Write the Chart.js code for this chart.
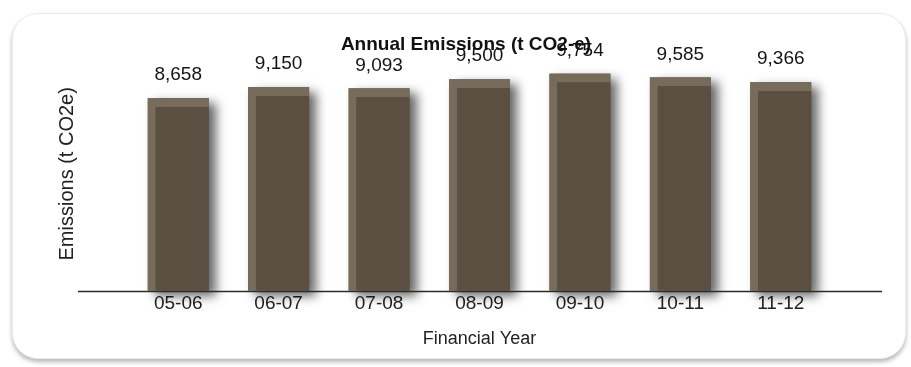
<!DOCTYPE html>
<html>
<head>
<meta charset="utf-8">
<title>Annual Emissions</title>
<script src="https://cdn.jsdelivr.net/npm/chart.js@4.4.1/dist/chart.umd.min.js"></script>
<style>
  html, body { margin: 0; padding: 0; background: #fff; }
  .stage { position: relative; width: 911px; height: 367px; overflow: hidden; }
  .card {
    position: absolute; left: 12px; top: 13px; width: 892px; height: 344px;
    border: 1px solid #ececec; border-radius: 26px;
    box-shadow: 0 3px 4px rgba(0, 0, 0, 0.28);
    background: #fff;
  }
  .chart-wrap { position: absolute; left: 0; top: 0; width: 911px; height: 367px; }
</style>
</head>
<body>
<div class="stage">
  <div class="card"></div>
  <div class="chart-wrap"><canvas id="emissions-chart" width="911" height="367"></canvas></div>
</div>
<script>
const years = ['05-06', '06-07', '07-08', '08-09', '09-10', '10-11', '11-12'];
const emissions = [8658, 9150, 9093, 9500, 9754, 9585, 9366];
const chartTitle = 'Annual Emissions (t CO2-e)';
const yTitle = 'Emissions (t CO2e)';
const xTitle = 'Financial Year';

const FONT = '"Liberation Sans", Arial, sans-serif';

// soft drop shadow behind each bar (the bar element clips itself, so cast it first)
const barShadow = {
  id: 'barShadow',
  beforeDatasetsDraw(chart) {
    const ctx = chart.ctx;
    ctx.save();
    ctx.shadowColor = 'rgba(0, 0, 0, 0.6)';
    ctx.shadowBlur = 10;
    ctx.shadowOffsetX = 7;
    ctx.shadowOffsetY = 5;
    ctx.fillStyle = '#5a4f40';
    chart.getDatasetMeta(0).data.forEach((bar) => {
      const { x, y, base, width } = bar.getProps(['x', 'y', 'base', 'width'], true);
      ctx.fillRect(x - width / 2, y, width, base - y);
    });
    ctx.restore();
  },
};

// baseline running wider than the bars, plus value labels and heading
const decorations = {
  id: 'decorations',
  afterDatasetsDraw(chart) {
    const { ctx, chartArea } = chart;
    const y0 = Math.round(chart.scales.y.getPixelForValue(0)) + 0.5;
    ctx.save();
    ctx.strokeStyle = '#2b2b2b';
    ctx.lineWidth = 1.3;
    ctx.beginPath();
    ctx.moveTo(chartArea.left - 50, y0);
    ctx.lineTo(chartArea.right + 51, y0);
    ctx.stroke();

    ctx.fillStyle = '#151515';
    ctx.font = '19px ' + FONT;
    ctx.textAlign = 'center';
    ctx.textBaseline = 'middle';
    chart.getDatasetMeta(0).data.forEach((bar, i) => {
      ctx.fillText(emissions[i].toLocaleString('en-US'), bar.x, bar.y - 23);
    });

    ctx.font = 'bold 19px ' + FONT;
    ctx.fillStyle = '#111';
    ctx.fillText(chartTitle, 466, 45);
    ctx.restore();
  },
};

new Chart(document.getElementById('emissions-chart'), {
  type: 'bar',
  data: {
    labels: years,
    datasets: [
      {
        data: emissions,
        backgroundColor: '#5a4f40',
        borderColor: '#776c5c',
        borderWidth: { left: 8, top: 9, right: 0, bottom: 0 },
        borderSkipped: false,
        barPercentage: 0.76,
        categoryPercentage: 0.8,
      },
    ],
  },
  options: {
    responsive: false,
    animation: false,
    devicePixelRatio: 1,
    layout: { padding: { left: 55, right: 80, top: 57, bottom: 17 } },
    plugins: {
      legend: { display: false },
      tooltip: { enabled: false },
    },
    scales: {
      x: {
        grid: { display: false, drawTicks: false },
        border: { display: false },
        ticks: { color: '#222', padding: 2, font: { family: FONT, size: 19 } },
        title: {
          display: true,
          text: xTitle,
          color: '#222',
          font: { family: FONT, size: 18 },
          padding: { top: 11, bottom: 0 },
        },
      },
      y: {
        min: 0,
        max: 10500,
        grid: { display: false, drawTicks: false },
        border: { display: false },
        ticks: { display: false },
        title: {
          display: true,
          text: yTitle,
          color: '#222',
          font: { family: FONT, size: 20 },
          padding: { top: 0, bottom: 49 },
        },
      },
    },
  },
  plugins: [barShadow, decorations],
});
</script>
</body>
</html>
